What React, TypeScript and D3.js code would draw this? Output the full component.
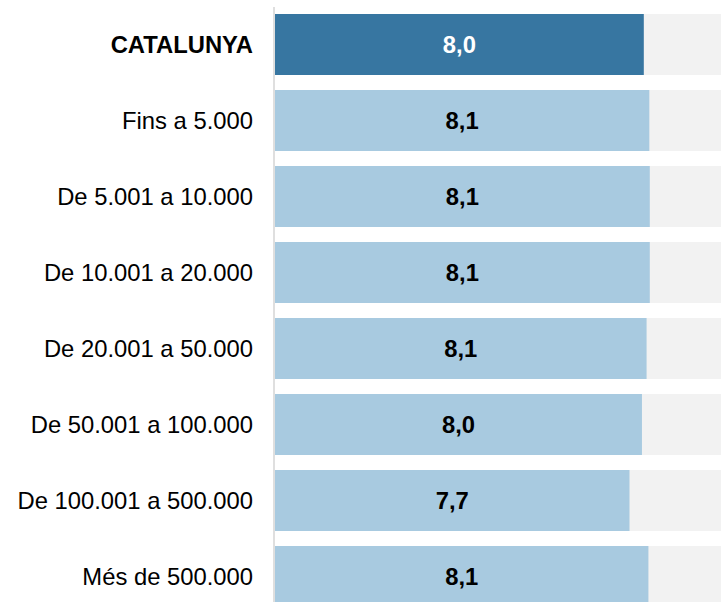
import React from "react";
import * as d3 from "d3";

const categories = [
  "CATALUNYA",
  "Fins a 5.000",
  "De 5.001 a 10.000",
  "De 10.001 a 20.000",
  "De 20.001 a 50.000",
  "De 50.001 a 100.000",
  "De 100.001 a 500.000",
  "Més de 500.000",
];
const values = [8.0, 8.12, 8.13, 8.13, 8.06, 7.96, 7.69, 8.1];
const highlight = [true, false, false, false, false, false, false, false];
const domainMax = 10;

const W = 721;
const H = 602;
const FONT = "'Liberation Sans', Arial, Helvetica, sans-serif";

export default function App() {
  const x = d3.scaleLinear().domain([0, domainMax]).range([275, 736]);
  const y = d3
    .scaleBand<string>()
    .domain(categories)
    .range([0, 76 * categories.length])
    .paddingInner(15 / 76)
    .paddingOuter(7.5 / 76);
  const fmt = (v: number) => d3.format(".1f")(v).replace(".", ",");

  return (
    <svg
      width={W}
      height={H}
      style={{ position: "absolute", left: 0, top: 0, display: "block" }}
      fontFamily={FONT}
    >
      {categories.map((c, i) => {
        const y0 = (y(c) as number) + 6.5;
        const bh = y.bandwidth();
        const cy = y0 + bh / 2;
        return (
          <g key={c}>
            <rect x={x(0)} y={y0} width={x(domainMax) - x(0)} height={bh} fill="#f2f2f2" />
            <rect
              x={x(0)}
              y={y0}
              width={x(values[i]) - x(0)}
              height={bh}
              fill={highlight[i] ? "#3776a1" : "#a8cae0"}
            />
            <text
              x={253}
              y={cy}
              textAnchor="end"
              dominantBaseline="central"
              fontSize={23.8}
              fontWeight={highlight[i] ? "bold" : "normal"}
              fill="#000"
            >
              {c}
            </text>
            <text
              x={(x(0) + x(values[i])) / 2}
              y={cy}
              textAnchor="middle"
              dominantBaseline="central"
              fontSize={23.8}
              fontWeight="bold"
              fill={highlight[i] ? "#ffffff" : "#000"}
            >
              {fmt(values[i])}
            </text>
          </g>
        );
      })}
      <line x1={274} x2={274} y1={7} y2={H} stroke="#d4d4d4" strokeWidth={1.5} />
    </svg>
  );
}
